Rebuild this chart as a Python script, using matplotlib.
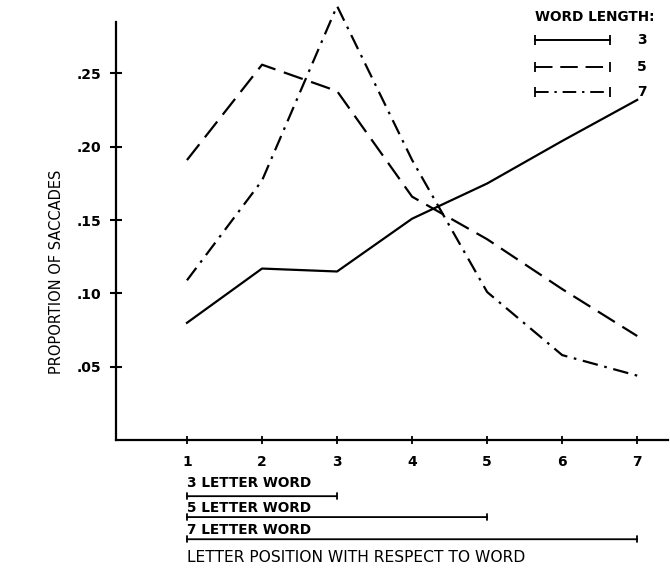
import matplotlib.pyplot as plt

# letter position and proportion of saccades for each word length
positions = [1, 2, 3, 4, 5, 6, 7]
len3 = [0.080, 0.117, 0.115, 0.151, 0.175, 0.204, 0.232]
len5 = [0.191, 0.256, 0.238, 0.166, 0.137, 0.103, 0.071]
len7 = [0.109, 0.177, 0.296, 0.191, 0.101, 0.058, 0.044]

yticks = [0.05, 0.10, 0.15, 0.20, 0.25]
ytick_labels = ['.05', '.10', '.15', '.20', '.25']
word_spans = [3, 5, 7]

plt.rcParams['font.family'] = ['DejaVu Sans']

fig = plt.figure(figsize=(6.7, 5.83), dpi=100)
ax = fig.add_axes([0.173, 0.245, 0.824, 0.717])

dash5 = (0, (9, 4))
dash7 = (0, (7, 3, 1.2, 3))

ax.plot(positions, len3, color='black', lw=1.6, linestyle='-', clip_on=False)
ax.plot(positions, len5, color='black', lw=1.6, linestyle=dash5, clip_on=False)
ax.plot(positions, len7, color='black', lw=1.6, linestyle=dash7, clip_on=False)

ax.set_xlim(0.053, 7.41)
ax.set_ylim(0, 0.285)
ax.spines['top'].set_visible(False)
ax.spines['right'].set_visible(False)
ax.spines['left'].set_linewidth(1.6)
ax.spines['bottom'].set_linewidth(1.6)

ax.set_yticks(yticks)
ax.set_yticklabels(ytick_labels)
ax.set_xticks(positions)
ax.set_xticklabels([str(p) for p in positions])
ax.tick_params(axis='y', direction='inout', length=9, width=1.5, labelsize=10, pad=6)
ax.tick_params(axis='x', direction='inout', length=6, width=1.3, labelsize=10, pad=8)
for t in ax.get_xticklabels() + ax.get_yticklabels():
    t.set_fontweight('bold')

ax.set_ylabel('PROPORTION OF SACCADES', fontsize=10.5)
ax.yaxis.set_label_coords(-0.094, 0.402)

# word span brackets below the x axis
tr = ax.get_xaxis_transform()
text_y = [-0.103, -0.163, -0.215]
line_y = [-0.134, -0.184, -0.237]
for span, ty, ly in zip(word_spans, text_y, line_y):
    ax.text(1, ty, f'{span} LETTER WORD', transform=tr, ha='left', va='center',
            fontsize=9.8, fontweight='bold')
    ax.annotate('', xy=(span, ly), xytext=(1, ly), xycoords=tr, textcoords=tr,
                arrowprops=dict(arrowstyle='|-|, widthA=0.2, widthB=0.2',
                                color='black', lw=1.3, shrinkA=0, shrinkB=0))

ax.text(1, -0.28, 'LETTER POSITION WITH RESPECT TO WORD', transform=tr,
        ha='left', va='center', fontsize=11.2)

# legend drawn by hand, like the original figure
at = ax.transAxes
ax.text(0.759, 1.012, 'WORD LENGTH:', transform=at, ha='left', va='center',
        fontsize=9.8, fontweight='bold')
leg_y = [0.957, 0.892, 0.833]
styles = ['-', dash5, dash7]
for span, yy, st in zip(word_spans, leg_y, styles):
    ax.plot([0.759, 0.895], [yy, yy], transform=at, color='black', lw=1.4,
            linestyle=st, clip_on=False)
    ax.plot([0.759, 0.895], [yy, yy], transform=at, color='black', lw=0,
            marker='|', markersize=7, markeredgewidth=1.3, clip_on=False)
    ax.text(0.953, yy, str(span), transform=at, ha='center', va='center',
            fontsize=10, fontweight='bold')

fig.savefig('out.png', dpi=100)
